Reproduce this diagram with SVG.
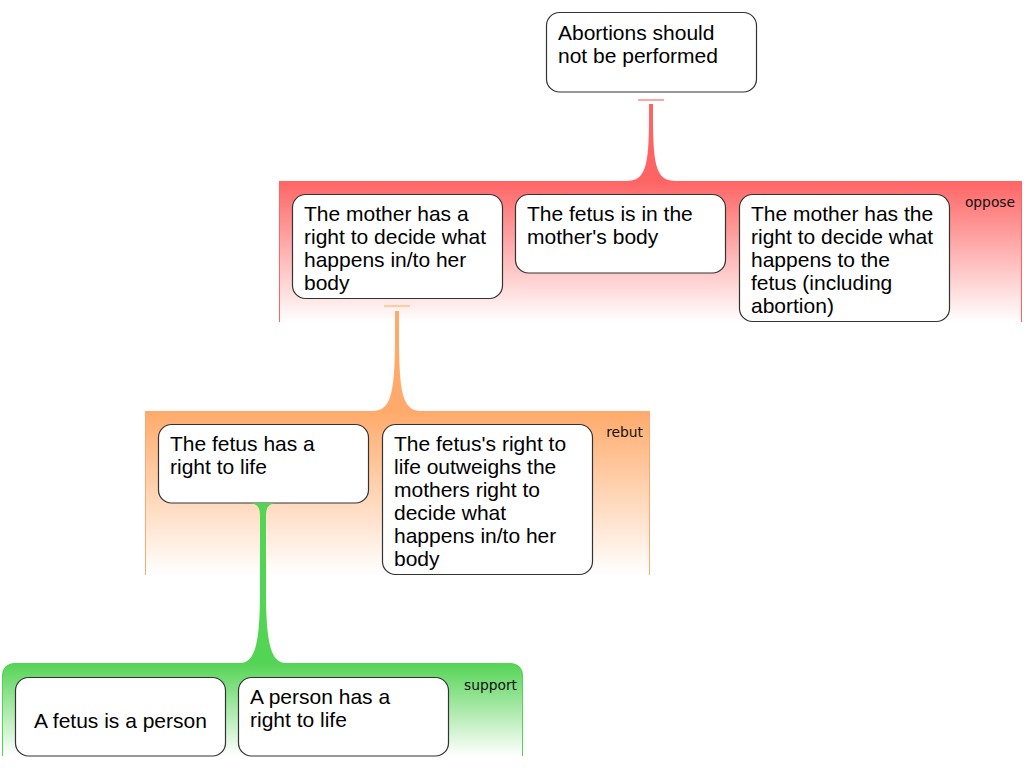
<svg xmlns="http://www.w3.org/2000/svg" width="1024" height="768" viewBox="0 0 1024 768">
<defs>
<linearGradient id="gRed" x1="0" y1="0" x2="0" y2="1"><stop offset="0" stop-color="#ff6464"/><stop offset="1" stop-color="#ffffff"/></linearGradient>
<linearGradient id="gOrange" x1="0" y1="0" x2="0" y2="1"><stop offset="0" stop-color="#ffaa6a"/><stop offset="1" stop-color="#ffffff"/></linearGradient>
<linearGradient id="gGreen" x1="0" y1="0" x2="0" y2="1"><stop offset="0" stop-color="#54d454"/><stop offset="1" stop-color="#ffffff"/></linearGradient>
<style>
.box{fill:#fff;stroke:#333;stroke-width:1.2}
.t{font-family:"Liberation Sans",Arial,sans-serif;font-size:21px;fill:#000}
.lbl{font-family:"DejaVu Sans",Verdana,sans-serif;font-size:13.8px;fill:#111;text-anchor:end}
</style>
</defs>
<rect width="1024" height="768" fill="#fff"/>
<g id="bands">
<g id="band-oppose">
<rect x="279" y="181" width="743" height="141" fill="url(#gRed)"/>
<path d="M279.5,181V322M1021.5,181V322" stroke="#ff6464" stroke-width="1"/>
<text class="lbl" x="1015" y="207">oppose</text>
</g>
<g id="band-rebut">
<rect x="145" y="411" width="505" height="164" fill="url(#gOrange)"/>
<path d="M145.5,411V575M649.5,411V575" stroke="#ffaa6a" stroke-width="1"/>
<text class="lbl" x="643" y="437">rebut</text>
</g>
<g id="band-support">
<path d="M2,756V677Q2,663 16,663H509Q523,663 523,677V756Z" fill="url(#gGreen)"/>
<path d="M2.5,756V677Q2.5,663.5 16,663.5M509,663.5Q522.5,663.5 522.5,677V756" fill="none" stroke="#54d454" stroke-width="1"/>
<text class="lbl" x="517" y="690">support</text>
</g>
</g>
<g id="n0"><rect class="box" x="546.5" y="12.5" width="210" height="79.5" rx="13"/>
<text class="t" x="558" y="40">Abortions should</text><text class="t" x="558" y="63">not be performed</text></g>
<g id="n1"><rect class="box" x="292.5" y="194.5" width="210" height="104" rx="13"/>
<text class="t" x="304" y="221">The mother has a</text><text class="t" x="304" y="244">right to decide what</text><text class="t" x="304" y="267">happens in/to her</text><text class="t" x="304" y="290">body</text></g>
<g id="n2"><rect class="box" x="515.5" y="194.5" width="210" height="78.5" rx="13"/>
<text class="t" x="527" y="221">The fetus is in the</text><text class="t" x="527" y="244">mother's body</text></g>
<g id="n3"><rect class="box" x="739.5" y="194.5" width="210" height="127" rx="13"/>
<text class="t" x="751" y="221">The mother has the</text><text class="t" x="751" y="244">right to decide what</text><text class="t" x="751" y="267">happens to the</text><text class="t" x="751" y="290">fetus (including</text><text class="t" x="751" y="313">abortion)</text></g>
<g id="n4"><rect class="box" x="158.5" y="424.5" width="210" height="78.5" rx="13"/>
<text class="t" x="170" y="451">The fetus has a</text><text class="t" x="170" y="474">right to life</text></g>
<g id="n5"><rect class="box" x="382.5" y="424.5" width="210" height="150" rx="13"/>
<text class="t" x="394" y="451">The fetus's right to</text><text class="t" x="394" y="474">life outweighs the</text><text class="t" x="394" y="497">mothers right to</text><text class="t" x="394" y="520">decide what</text><text class="t" x="394" y="543">happens in/to her</text><text class="t" x="394" y="566">body</text></g>
<g id="n6"><rect class="box" x="15.5" y="677.5" width="210" height="78.5" rx="13"/>
<text class="t" x="120.5" y="728" text-anchor="middle">A fetus is a person</text></g>
<g id="n7"><rect class="box" x="238.5" y="677.5" width="210" height="78.5" rx="13"/>
<text class="t" x="250" y="704">A person has a</text><text class="t" x="250" y="727">right to life</text></g>
<g id="connectors">
<line x1="638" y1="100" x2="664" y2="100" stroke="#ffa5a5" stroke-width="2"/>
<path d="M649,104L653,104L653,118C653,168 657,181 676,181L626,181C645,181 649,168 649,118Z" fill="#ff6464"/>
<line x1="384" y1="306" x2="410" y2="306" stroke="#ffcb9f" stroke-width="2"/>
<path d="M395,311L399,311L399,335C399,395 403,411 422,411L372,411C391,411 395,395 395,335Z" fill="#ffaa6a"/>
<path d="M250,503L276,503C268,504 266,508 266,516L266,590C266,640 270,663 286,663L240,663C256,663 260,640 260,590L260,516C260,508 258,504 250,503Z" fill="#54d454"/>
</g>
</svg>
